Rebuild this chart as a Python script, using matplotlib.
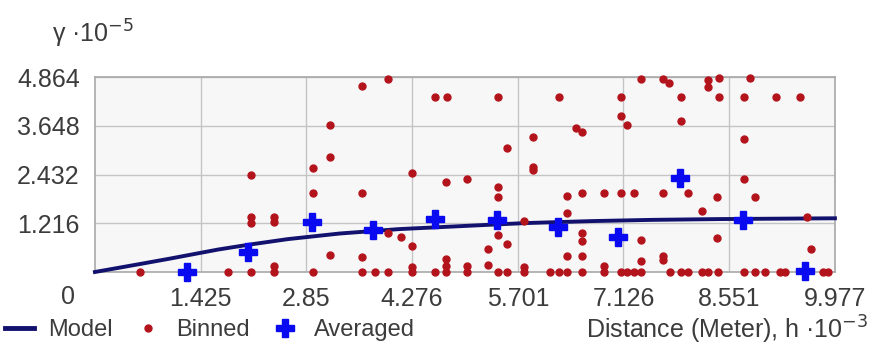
import matplotlib.pyplot as plt
from matplotlib.lines import Line2D

plt.rcParams['font.family'] = ['Liberation Sans', 'DejaVu Sans']

# semivariogram values, distance in 1e-3 m, gamma in 1e-5
x_ticks = [1.425, 2.85, 4.276, 5.701, 7.126, 8.551, 9.977]
x_tick_labels = ["1.425", "2.85", "4.276", "5.701", "7.126", "8.551", "9.977"]
y_ticks = [1.216, 2.432, 3.648, 4.864]
y_tick_labels = ["1.216", "2.432", "3.648", "4.864"]

model_h = [0.0, 0.61, 1.0, 1.66, 2.07, 2.6, 3.3, 4.1, 5.0, 5.8, 6.7, 7.5, 8.4, 9.2, 9.977]
model_gamma = [0.0, 0.2, 0.33, 0.56, 0.68, 0.82, 0.96, 1.07, 1.15, 1.22, 1.27, 1.30, 1.32, 1.33, 1.34]

binned_h = [
    0.61, 1.79, 2.11, 2.42, 2.94, 3.60, 3.78, 3.95, 4.28, 4.58, 4.73, 5.02,
    5.43, 5.55, 5.79, 6.14, 6.25, 6.37, 6.57, 6.86, 7.09, 7.18, 7.27, 7.36,
    7.75, 7.90, 7.99, 8.18, 8.26, 8.40, 8.75, 8.90, 9.04, 9.23, 9.30, 9.82, 9.88,
    2.42, 4.28, 4.73, 5.02, 5.30, 5.79, 6.86, 7.36,
    3.17, 3.17, 2.94, 2.11, 2.94, 2.11, 2.11, 2.42, 2.42, 3.17,
    3.60, 3.95, 4.58, 4.74, 4.28, 4.73, 5.02, 3.60, 3.95, 4.13, 4.28, 3.60, 4.73,
    5.43, 6.25, 6.49, 6.57, 5.91, 5.55, 5.91, 5.91, 5.43, 5.43, 6.37, 6.57,
    6.37, 5.79, 5.43, 5.55, 5.30, 6.57, 6.57, 6.37, 6.57,
    7.36, 7.66, 7.74, 8.26, 8.26, 7.09, 7.90, 7.09, 7.18, 7.90, 6.86, 7.09,
    7.27, 7.66, 7.99, 8.18, 8.39, 7.36, 7.66, 7.66, 8.39,
    8.41, 8.83, 8.41, 8.75, 9.18, 9.51, 8.75, 8.75, 8.90, 9.60, 9.66,
]
binned_gamma = [
    0, 0, 0, 0, 0, 0, 0, 0, 0, 0, 0, 0,
    0, 0, 0, 0, 0, 0, 0, 0, 0, 0, 0, 0,
    0, 0, 0, 0, 0, 0, 0, 0, 0, 0, 0, 0, 0,
    0.14, 0.12, 0.15, 0.15, 0.18, 0.12, 0.14, 0.27,
    3.66, 2.87, 2.60, 2.43, 1.97, 1.38, 1.22, 1.38, 1.24, 0.42,
    4.65, 4.82, 4.36, 4.36, 2.48, 2.25, 2.33, 1.97, 0.98, 0.87, 0.65, 0.38, 0.32,
    4.36, 4.36, 3.59, 3.48, 3.37, 3.10, 2.62, 2.54, 2.11, 1.87, 1.89, 1.98,
    1.47, 1.27, 0.93, 0.69, 0.58, 0.98, 0.78, 0.41, 0.40,
    4.82, 4.82, 4.71, 4.79, 4.61, 4.36, 4.36, 3.88, 3.66, 3.77, 1.96, 1.96,
    1.96, 1.96, 1.96, 1.51, 1.88, 0.80, 0.41, 0.31, 0.84,
    4.83, 4.83, 4.36, 4.36, 4.36, 4.36, 3.31, 2.32, 1.88, 1.37, 0.57,
]

averaged_h = [1.24, 2.06, 2.93, 3.75, 4.58, 5.42, 6.24, 7.05, 7.89, 8.74, 9.57]
averaged_gamma = [0.0, 0.50, 1.25, 1.05, 1.32, 1.30, 1.12, 0.87, 2.34, 1.30, 0.02]

TEXT = "#3c3c3c"
RED = "#b3141c"
BLUE = "#0a0af0"
NAVY = "#12126e"
FS = 18

fig = plt.figure(figsize=(8.71, 3.45), dpi=100)
ax = fig.add_axes([0.109, 0.2116, 0.8496, 0.5652])
ax.set_facecolor("#f7f7f7")

ax.plot(model_h, model_gamma, color=NAVY, lw=2.8, zorder=3, clip_on=False)
ax.plot(binned_h, binned_gamma, "o", color=RED, ms=5, mec=RED, zorder=4,
        clip_on=False)
ax.plot(averaged_h, averaged_gamma, "P", color=BLUE, ms=13, mec=BLUE,
        zorder=5, clip_on=False)

ax.set_xlim(0, 9.977)
ax.set_ylim(0, 4.864)
ax.set_xticks(x_ticks, x_tick_labels)
ax.set_yticks(y_ticks, y_tick_labels)
ax.tick_params(length=0, labelsize=FS, labelcolor=TEXT, pad=11)
ax.grid(True, color="#c4c4c4", lw=1)
ax.set_axisbelow(True)
for s in ax.spines.values():
    s.set_color("#a8a8a8")
    s.set_linewidth(1.2)

fig.text(68 / 871, 1 - 297 / 345, "0", fontsize=FS, color=TEXT,
         ha="center", va="center")
fig.text(52 / 871, 1 - 34 / 345, r"γ ·10$^{-5}$", fontsize=FS, color=TEXT,
         ha="left", va="center")
fig.text(868 / 871, 1 - 330 / 345, r"Distance (Meter), h ·10$^{-3}$",
         fontsize=FS, color=TEXT, ha="right", va="center")

handles = [
    Line2D([], [], color=NAVY, lw=3.5),
    Line2D([], [], ls="", marker="o", color=RED, ms=5),
    Line2D([], [], ls="", marker="P", color=BLUE, ms=13),
]
fig.legend(handles, ["Model", "Binned", "Averaged"], loc="center left",
           bbox_to_anchor=(0.006, 1 - 330 / 345), ncol=3, frameon=False,
           fontsize=17, labelcolor=TEXT, handlelength=1.2, handletextpad=0.6,
           columnspacing=0.9, borderpad=0, borderaxespad=0)

fig.savefig("out.png", dpi=100)
